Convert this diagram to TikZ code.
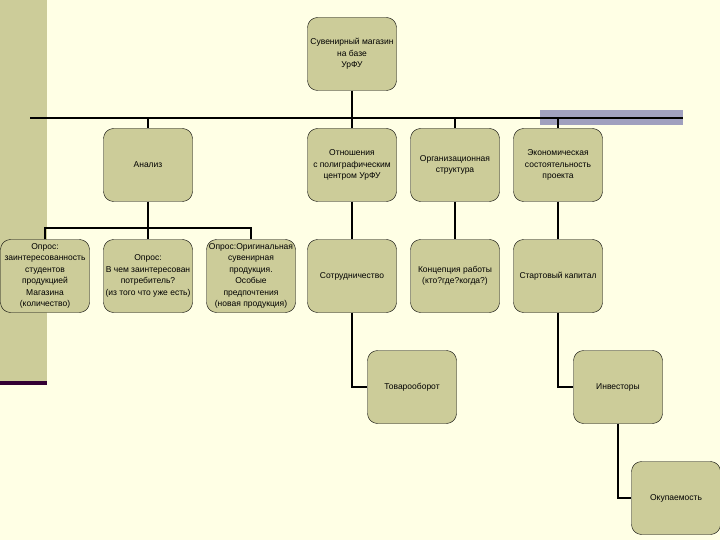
\documentclass[tikz,border=0pt]{standalone}
\usepackage{fontspec}
\setmainfont{Liberation Sans}
\usetikzlibrary{positioning}

\definecolor{cream}{RGB}{255,255,229}
\definecolor{khaki}{RGB}{204,204,153}
\definecolor{haze}{RGB}{160,160,190}
\definecolor{plum}{RGB}{51,0,51}

\begin{document}
\begin{tikzpicture}[x=1pt, y=1pt, node distance=111pt and 103pt, on grid]
    \tikzstyle{block} = [rectangle, rounded corners=10pt, draw, fill=khaki, minimum width=89pt, minimum height=73pt, inner sep=1pt, align=center, font=\fontsize{8.5}{11.5}\selectfont]
    \tikzstyle{link} = [line width=2.6pt]

    % background
    \useasboundingbox (0,0) rectangle (720,-540);
    \fill[cream] (0,0) rectangle (720,-540);
    \fill[khaki] (0,0) rectangle (47,-382);
    \fill[plum] (0,-381) rectangle (47,-385);
    \fill[haze] (540,-110) rectangle (683,-125);

    \coordinate (busL) at (30,-118);
    \coordinate (busR) at (683,-118);
    \coordinate (fork) at (0,-228);

    \node (top) [block] at (352,-54) {Сувенирный магазин\\на базе\\УрФУ};
    \node (rel) [block, below=of top] {Отношения\\с полиграфическим\\центром УрФУ};
    \node (org) [block, right=of rel] {Организационная\\структура};
    \node (eco) [block, right=of org] {Экономическая\\состоятельность\\проекта};
    \node (ana) [block, left=204pt of rel] {Анализ};
    \node (askB) [block, below=of ana] {Опрос:\\В чем заинтересован\\потребитель?\\(из того что уже есть)};
    \node (askA) [block, left=of askB] {Опрос:\\заинтересованность\\студентов\\продукцией\\Магазина\\(количество)};
    \node (askC) [block, right=of askB] {Опрос:Оригинальная\\сувенирная\\продукция.\\Особые\\предпочтения\\(новая продукция)};
    \node (coop) [block, below=of rel] {Сотрудничество};
    \node (idea) [block, below=of org] {Концепция работы\\(кто?где?когда?)};
    \node (capital) [block, below=of eco] {Стартовый капитал};
    \node (turnover) [block, below right=111pt and 60pt of coop] {Товарооборот};
    \node (invest) [block, below right=111pt and 60pt of capital] {Инвесторы};
    \node (payback) [block, below right=111pt and 58pt of invest] {Окупаемость};

    % Lines
    \draw [link] (busL) -- (busR);
    \draw [link] (top) -- (top |- busL);
    \draw [link] (ana.north |- busL) -- (ana);
    \draw [link] (rel.north |- busL) -- (rel);
    \draw [link] (org.north |- busL) -- (org);
    \draw [link] (eco.north |- busL) -- (eco);
    \draw [link] (ana) -- (askB);
    \draw [link] (askA) -- (askA |- fork) -- (askC |- fork) -- (askC);
    \draw [link] (rel) -- (coop);
    \draw [link] (org) -- (idea);
    \draw [link] (eco) -- (capital);
    \draw [link] (coop) |- (turnover);
    \draw [link] (capital) |- (invest);
    \draw [link] (invest) |- (payback);
\end{tikzpicture}
\end{document}
